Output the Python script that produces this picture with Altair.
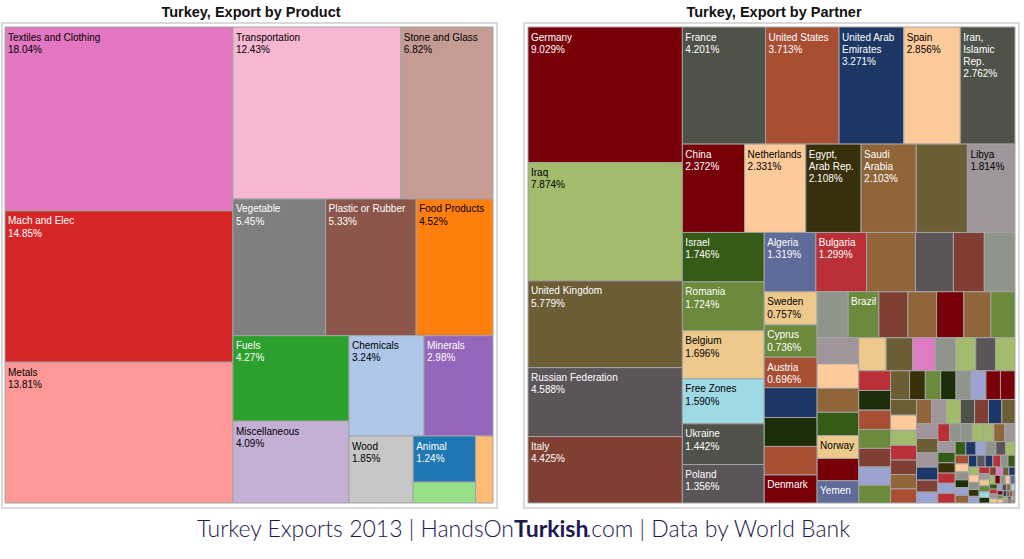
import altair as alt
import pandas as pd

# ---------------- data ----------------
product_labels = ["Textiles and Clothing", "Mach and Elec", "Metals", "Transportation",
                  "Stone and Glass", "Vegetable", "Plastic or Rubber", "Food Products",
                  "Fuels", "Miscellaneous", "Chemicals", "Minerals", "Wood", "Animal",
                  "Hides and Skins", "Footwear"]
product_values = [18.04, 14.85, 13.81, 12.43, 6.82, 5.45, 5.33, 4.52,
                  4.27, 4.09, 3.24, 2.98, 1.85, 1.24, 0.56, 0.50]
product_shown = [True] * 14 + [False, False]
product_colors = ["#e377c2", "#d62728", "#ff9896", "#f7b6d2", "#c49c94", "#7f7f7f",
                  "#8c564b", "#ff7f0e", "#2ca02c", "#c5b0d5", "#aec7e8", "#9467bd",
                  "#c7c7c7", "#1f77b4", "#98df8a", "#ffbb78"]

partner_labels = [
    "Germany\n9.029%", "Iraq\n7.874%", "United Kingdom\n5.779%", "Russian Federation\n4.588%", "Italy\n4.425%",
    "France\n4.201%", "United States\n3.713%", "United Arab\nEmirates\n3.271%", "Spain\n2.856%", "Iran,\nIslamic\nRep.\n2.762%",
    "China\n2.372%", "Netherlands\n2.331%", "Egypt,\nArab Rep.\n2.108%", "Saudi\nArabia\n2.103%", "", "Libya\n1.814%",
    "Israel\n1.746%", "Romania\n1.724%", "Belgium\n1.696%", "Free Zones\n1.590%", "Ukraine\n1.442%", "Poland\n1.356%",
    "Algeria\n1.319%", "Bulgaria\n1.299%", "", "", "", "",
    "Sweden\n0.757%", "Cyprus\n0.736%", "Austria\n0.696%", "", "", "", "Denmark",
    "", "Brazil", "", "", "", "", "",
    "", "", "", "", "Norway", "", "Yemen",
]
partner_values = [
    9.029, 7.874, 5.779, 4.588, 4.425,
    4.201, 3.713, 3.271, 2.856, 2.762,
    2.372, 2.331, 2.108, 2.103, 1.95, 1.814,
    1.746, 1.724, 1.696, 1.590, 1.442, 1.356,
    1.319, 1.299, 1.25, 0.97, 0.79, 0.785,
    0.757, 0.736, 0.696, 0.68, 0.66, 0.65, 0.64,
    0.615, 0.61, 0.575, 0.57, 0.54, 0.535, 0.48,
    0.47, 0.44, 0.43, 0.42, 0.41, 0.40, 0.40,
    0.39, 0.38, 0.32, 0.29, 0.29, 0.285, 0.275, 0.27,
    0.27, 0.265, 0.26, 0.255, 0.25, 0.245, 0.235,
    0.195, 0.19, 0.19, 0.185, 0.185, 0.18, 0.18, 0.175,
    0.17, 0.168, 0.165, 0.163, 0.16, 0.158,
    0.156, 0.154, 0.15, 0.148, 0.145, 0.14, 0.138,
    0.135, 0.133, 0.13, 0.12, 0.11, 0.10,
    0.09, 0.088, 0.086, 0.084, 0.083, 0.082, 0.08,
    0.08, 0.078, 0.077, 0.076, 0.075, 0.072,
    0.062, 0.06, 0.058, 0.058, 0.057, 0.055,
    0.05, 0.047, 0.046, 0.045, 0.045,
    0.044, 0.043, 0.042, 0.04, 0.039, 0.038, 0.036, 0.035, 0.034, 0.032,
    0.031, 0.03, 0.03, 0.028, 0.028, 0.027, 0.026, 0.025, 0.024, 0.023,
    0.022, 0.022, 0.02, 0.02, 0.019, 0.018, 0.018, 0.017, 0.016, 0.015,
    0.015, 0.014, 0.013, 0.012, 0.012, 0.011, 0.01, 0.01, 0.009, 0.008,
    0.007, 0.007, 0.006, 0.005, 0.004, 0.004, 0.003, 0.003, 0.002, 0.002, 0.001, 0.001,
]
palette = {
    "DR": "#780008", "LG": "#a2bb6c", "OB": "#6b5e34", "DG": "#5b5459", "BR": "#7f4033",
    "GG": "#4f5249", "RU": "#a84e33", "NV": "#1c3765", "PE": "#fdca9b", "DO": "#37300a",
    "BN": "#8f6539", "MG": "#a0959a", "DKG": "#365b17", "SB": "#5f6b99", "RD": "#bb2f36",
    "GR": "#6b8a3b", "TN": "#eec98c", "CY": "#9fd9e4", "GY": "#8f958a", "VDG": "#1c2e0a",
    "LV": "#9ba3d1", "PK": "#df7bc3",
}
partner_color_keys = (
    "DR LG OB DG BR "
    "GG RU NV PE GG "
    "DR PE DO BN OB MG "
    "DKG GR TN CY GG DG "
    "SB RD BN DG BR GY "
    "TN GR RU NV VDG RU DR "
    "GY GR BR BN DR BN GR "
    "MG PE BN DKG TN DR SB "
    "TN OB PK GY LG DG LG RD "
    "VDG RU GR BR LV GR OB "
    "DO GR VDG GY LV DR DR OB "
    "PE LG RD BR BN RU "
    "BN MG LG GG BR NV OB "
    "MG OB MG NV BR LV "
    "RD GY GY LG LG BN MG "
    "MG DKG DO RD LV RD "
    "DKG NV LV GY DG LG "
    "RU PE GY VDG LV "
    "BN NV DG NV RD GY DKG LG PE GY DO LV RD MG TN GR CY VDG BR PK OB "
    "NV LG DR GY PE SB DKG RD MG TN LV GG BN CY DR GR PE NV OB RD GY "
    "LG MG NV RU DKG PE GY DR LV BN"
).split()

PHI = (1 + 5 ** 0.5) / 2


def squarify(values, x0, y0, x1, y1, ratio=PHI):
    """d3.treemapSquarify layout."""
    n = len(values)
    rects = [None] * n
    value = float(sum(values))
    i0 = i1 = 0
    while i0 < n:
        dx, dy = x1 - x0, y1 - y0
        sumv = values[i1]
        i1 += 1
        minv = maxv = sumv
        alpha = max(dy / dx, dx / dy) / (value * ratio)
        beta = sumv * sumv * alpha
        minr = max(maxv / beta, beta / minv)
        while i1 < n:
            nv = values[i1]
            s = sumv + nv
            mn, mx = min(minv, nv), max(maxv, nv)
            beta = s * s * alpha
            nr = max(mx / beta, beta / mn)
            if nr > minr:
                break
            sumv, minv, maxv, minr = s, mn, mx, nr
            i1 += 1
        if dx < dy:
            yy = y0 + dy * sumv / value if i1 < n else y1
            k = dx / sumv
            xx = x0
            for i in range(i0, i1):
                w = values[i] * k
                rects[i] = (xx, y0, xx + w, yy)
                xx += w
            y0 = yy
        else:
            xx = x0 + dx * sumv / value if i1 < n else x1
            k = dy / sumv
            yy = y0
            for i in range(i0, i1):
                h = values[i] * k
                rects[i] = (x0, yy, xx, yy + h)
                yy += h
            x0 = xx
        value -= sumv
        i0 = i1
    return rects


def text_color(hexcol):
    r, g, b = int(hexcol[1:3], 16), int(hexcol[3:5], 16), int(hexcol[5:7], 16)
    return "#000000" if 0.299 * r + 0.587 * g + 0.114 * b > 140 else "#ffffff"


rows = []
prod_rects = squarify(product_values, 5, 27, 493, 503)
for name, v, show, col, r in zip(product_labels, product_values, product_shown, product_colors, prod_rects):
    rows.append(dict(x=r[0], x2=r[2], y=r[1], y2=r[3], fill=col,
                     label=(f"{name}\n{v:.2f}%" if show else ""), tc=text_color(col)))

part_rects = squarify(partner_values, 528, 27, 1015, 503)
for i, (v, r) in enumerate(zip(partner_values, part_rects)):
    col = palette[partner_color_keys[i % len(partner_color_keys)]]
    lab = partner_labels[i] if i < len(partner_labels) else ""
    rows.append(dict(x=r[0], x2=r[2], y=r[1], y2=r[3], fill=col, label=lab, tc=text_color(col)))

df = pd.DataFrame(rows)

xs = alt.Scale(domain=[0, 1024], nice=False, zero=False)
ys = alt.Scale(domain=[0, 559], reverse=True, nice=False, zero=False)
one = pd.DataFrame({"a": [0]})

frames = alt.Chart(pd.DataFrame({"x": [2, 524], "x2": [497, 1019], "y": [23, 23], "y2": [508, 508]})).mark_rect(
    filled=False, stroke="#d9d9d9", strokeWidth=2
).encode(x=alt.X("x:Q", scale=xs, axis=None), x2="x2:Q",
         y=alt.Y("y:Q", scale=ys, axis=None), y2="y2:Q")

cells = alt.Chart(df).mark_rect(stroke="#a3a3a3", strokeWidth=1).encode(
    x=alt.X("x:Q", scale=xs, axis=None), x2="x2:Q",
    y=alt.Y("y:Q", scale=ys, axis=None), y2="y2:Q",
    fill=alt.Fill("fill:N", scale=None),
)

labels = alt.Chart(df[df["label"] != ""]).mark_text(
    align="left", baseline="top", dx=3, dy=5.5, fontSize=10, font="Liberation Sans",
    lineBreak="\n", lineHeight=12.3
).encode(
    x=alt.X("x:Q", scale=xs, axis=None),
    y=alt.Y("y:Q", scale=ys, axis=None),
    text="label:N",
    color=alt.Color("tc:N", scale=None),
)

titles = alt.Chart(pd.DataFrame({"x": [251, 774], "y": [13, 13],
                                 "t": ["Turkey, Export by Product", "Turkey, Export by Partner"]})).mark_text(
    fontSize=14.5, fontWeight="bold", font="Liberation Sans", color="#111111", baseline="middle", align="center"
).encode(x=alt.X("x:Q", scale=xs, axis=None), y=alt.Y("y:Q", scale=ys, axis=None), text="t:N")

foot_style = dict(fontSize=23, font="Lato", color="#1c1a4f", baseline="middle")
footA = alt.Chart(one).mark_text(align="right", fontWeight=300, **foot_style).encode(
    x=alt.value(514), y=alt.value(530), text=alt.value("Turkey Exports 2013 | HandsOn"))
footB = alt.Chart(one).mark_text(align="left", fontWeight="bold", **foot_style).encode(
    x=alt.value(514), y=alt.value(530), text=alt.value("Turkish"))
footC = alt.Chart(one).mark_text(align="left", fontWeight=300, **foot_style).encode(
    x=alt.value(586), y=alt.value(530), text=alt.value(".com | Data by World Bank"))

chart = alt.layer(frames, cells, labels, titles, footA, footB, footC).properties(
    width=1024, height=559, autosize=alt.AutoSizeParams(type="none"), padding=0, background="white"
).configure_view(stroke=None)

chart.save("out.html", embed_options={"renderer": "svg", "actions": False})
